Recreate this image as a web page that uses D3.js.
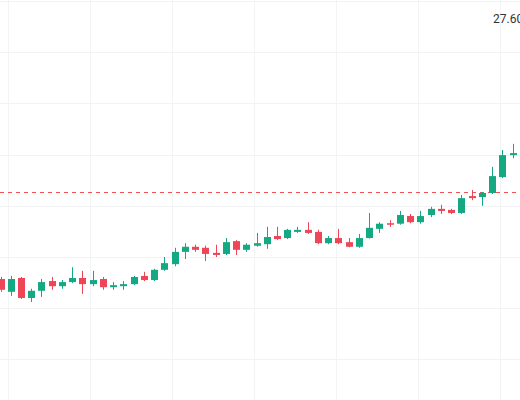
<!DOCTYPE html>
<html><head><meta charset="utf-8">
<script src="https://cdn.jsdelivr.net/npm/d3@7/dist/d3.min.js"></script>
<style>body{margin:0;background:#fff}svg{display:block}</style>
</head><body><svg id="c" width="520" height="400"></svg>
<script>
const open  = [22.57,22.32,22.59,22.20,22.34,22.53,22.43,22.51,22.59,22.47,22.57,22.41,22.43,22.47,22.63,22.55,22.75,22.86,23.10,23.20,23.18,23.08,23.06,23.31,23.14,23.22,23.25,23.41,23.37,23.49,23.53,23.49,23.27,23.37,23.29,23.20,23.37,23.55,23.66,23.65,23.80,23.68,23.82,23.94,23.92,23.86,24.19,24.17,24.25,24.56,24.99,25.05];
const high  = [22.61,22.63,22.61,22.38,22.57,22.61,22.55,22.80,22.73,22.73,22.61,22.51,22.53,22.63,22.71,22.77,23.00,23.18,23.27,23.24,23.22,23.24,23.37,23.33,23.27,23.47,23.59,23.59,23.55,23.59,23.68,23.53,23.41,23.55,23.37,23.45,23.86,23.68,23.72,23.90,23.84,23.90,23.98,24.02,23.94,24.21,24.31,24.27,24.76,25.09,25.21,25.29];
const low   = [22.32,22.24,22.18,22.12,22.22,22.36,22.38,22.49,22.28,22.43,22.36,22.36,22.36,22.45,22.53,22.53,22.73,22.82,22.96,23.10,22.92,23.00,23.04,23.04,23.10,23.20,23.16,23.33,23.35,23.47,23.45,23.25,23.25,23.25,23.19,23.18,23.36,23.47,23.59,23.63,23.66,23.65,23.78,23.84,23.84,23.84,24.11,24.00,24.23,24.54,24.93,25.03];
const close = [22.36,22.57,22.20,22.34,22.51,22.43,22.51,22.59,22.47,22.55,22.41,22.45,22.47,22.61,22.55,22.75,22.88,23.10,23.20,23.14,23.06,23.04,23.29,23.14,23.24,23.27,23.39,23.35,23.53,23.53,23.47,23.27,23.37,23.27,23.20,23.37,23.57,23.65,23.63,23.82,23.68,23.80,23.94,23.90,23.86,24.15,24.15,24.25,24.58,24.99,25.03,25.23];
const priceTicks = [28,27,26,25,24,23,22,21];
const timeGrid = [0.75,8.75,16.75,24.75,32.75,40.75,48.75];
const refLine = 24.27;
const axisLabel = "27.60";

const svg = d3.select("#c");
const x = d3.scaleLinear().domain([0,1]).range([0.5,10.74]);
const y = d3.scaleLinear().domain([28,21]).range([1,359.4]);
const up="#14a983", down="#ee4657";

svg.append("g").selectAll("line").data(priceTicks).join("line")
  .attr("x1",0).attr("x2",520).attr("y1",d=>Math.round(y(d))+0.5).attr("y2",d=>Math.round(y(d))+0.5)
  .attr("stroke","#f2f3f5");
svg.append("g").selectAll("line").data(timeGrid).join("line")
  .attr("y1",0).attr("y2",400).attr("x1",d=>Math.round(x(d))+0.5).attr("x2",d=>Math.round(x(d))+0.5)
  .attr("stroke","#f2f3f5");

svg.append("line").attr("x1",0).attr("x2",520)
  .attr("y1",Math.round(y(refLine))+0.5).attr("y2",Math.round(y(refLine))+0.5)
  .attr("stroke","#ef5350").attr("stroke-dasharray","4,4").attr("stroke-width",1);

const idx = d3.range(open.length);
const g = svg.append("g");
g.selectAll("line.w").data(idx).join("line").attr("class","w")
  .attr("x1",i=>Math.round(x(i))+0.5).attr("x2",i=>Math.round(x(i))+0.5)
  .attr("y1",i=>y(high[i])).attr("y2",i=>y(low[i]))
  .attr("stroke",i=>close[i]>=open[i]?up:down).attr("stroke-width",1);
g.selectAll("rect").data(idx).join("rect")
  .attr("x",i=>Math.round(x(i))-3).attr("width",7)
  .attr("y",i=>y(Math.max(open[i],close[i])))
  .attr("height",i=>Math.max(1,Math.abs(y(open[i])-y(close[i]))))
  .attr("fill",i=>close[i]>=open[i]?up:down);

svg.append("text").attr("x",493).attr("y",23).text(axisLabel)
  .attr("font-family","Roboto, 'Noto Sans', sans-serif").attr("font-size",12).attr("fill","#333");
</script></body></html>
